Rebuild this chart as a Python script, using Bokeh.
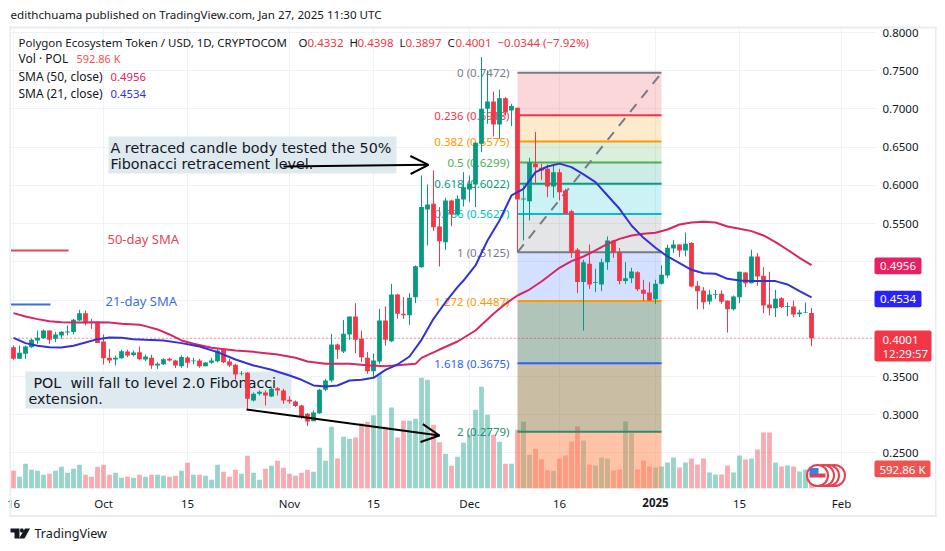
from bokeh.plotting import figure
from bokeh.embed import file_html
from bokeh.resources import INLINE
from bokeh.models import (Label, BoxAnnotation, PolyAnnotation, Arrow, OpenHead, FixedTicker,
                          Range1d, NumeralTickFormatter)

FONT = "Noto Sans"
UP, DOWN = "#089981", "#F23645"

# days counted from 1 Oct 2024
first_day = -15
opens = [.3884,.3732,.3797,.3884,.3971,.4002,.4102,.3993,.4037,.4076,.4081,.4233,.4329,.4220,.4211,
 .3958,.3745,.3723,.3740,.3828,.3780,.3819,.3723,.3745,.3645,.3662,.3732,.3710,.3636,.3749,.3701,.3710,.3636,.3680,.3701,.3850,.3697,.3653,.3536,.3549,
 .3187,.3274,.3291,.3239,.3348,.3318,.3196,.3174,.3121,.3012,.2916,.3021,
 .3326,.3448,.3919,.3827,.4050,.4285,.3993,.3744,.3570,.3697,.4233,.3962,.4573,.4320,.4303,.4538,
 .4931,.5685,.5759,.5463,.5258,.5803,.5620,.5816,.5947,.6012,.6544,.7002,.7098,.6797,.7141,.6980,.7015,.5816,
 .5794,.6282,.6230,.6217,.5986,.6173,.5934,.5663,.5158,.4735,.4974,.4726,.4704,.4996,.5280,.5127,.4748,.4787,.4865,.4634,.4599,.4512,.4713,.4822,
 .5175,.5227,.5149,.5245,.4687,.4626,.4482,.4569,.4582,.4495,.4381,.4538,.4861,.4721,.5070,.4817,.4442,.4394,.4525,.4412,.4416,.4316,.4330,.4332]
highs = [.3906,.3906,.3906,.3993,.4102,.4115,.4102,.4081,.4094,.4168,.4255,.4373,.4364,.4255,.4224,
 .4050,.3862,.3775,.3850,.3850,.3841,.3893,.3788,.3784,.3688,.3740,.3745,.3719,.3775,.3767,.3745,.3732,.3688,.3745,.3862,.3862,.3732,.3666,.3570,.3557,
 .3291,.3318,.3318,.3361,.3361,.3339,.3239,.3187,.3130,.3021,.3056,.3339,
 .3470,.4058,.3930,.4241,.4285,.4460,.4100,.3819,.3800,.4385,.4416,.4712,.4582,.4538,.4590,.4953,
 .6130,.6012,.6195,.5716,.5838,.5812,.5868,.6173,.6130,.6566,.7677,.7503,.7228,.7254,.7154,.7067,.7015,.6000,
 .6361,.6697,.6282,.6274,.6282,.6217,.5955,.5681,.5180,.5027,.5227,.4909,.5040,.5332,.5288,.5184,.4996,.4922,.4878,.4765,.4735,.4765,.4953,.5227,
 .5288,.5227,.5384,.5258,.4748,.4669,.4634,.4634,.4626,.4495,.4560,.4870,.4870,.5158,.5114,.4931,.4870,.4634,.4538,.4469,.4495,.4373,.4469,.4398]
lows = [.3719,.3732,.3732,.3876,.3928,.3993,.3928,.3950,.3993,.4037,.4050,.4224,.4168,.4124,.3937,
 .3658,.3675,.3645,.3732,.3754,.3762,.3719,.3701,.3601,.3601,.3653,.3697,.3610,.3614,.3614,.3658,.3614,.3632,.3666,.3684,.3675,.3623,.3457,.3514,.3078,
 .3174,.3252,.3121,.3230,.3252,.3143,.3143,.3100,.2947,.2851,.2916,.3012,
 .3308,.3426,.3731,.3806,.3980,.3806,.3688,.3535,.3492,.3666,.3906,.3949,.4255,.4255,.4176,.4460,
 .4922,.5214,.5402,.4940,.5157,.5467,.5607,.5724,.5781,.5716,.6435,.6806,.6640,.6609,.6915,.6775,.5127,.5280,
 .5541,.6021,.6073,.5846,.5838,.5803,.5628,.5053,.4591,.4102,.4647,.4604,.4617,.4896,.5053,.4704,.4713,.4722,.4617,.4486,.4486,.4451,.4704,.4791,
 .5114,.5062,.5070,.4669,.4381,.4381,.4442,.4512,.4451,.4076,.4364,.4460,.4669,.4721,.4687,.4329,.4299,.4277,.4394,.4290,.4277,.4277,.4329,.3897]
closes = [.3732,.3810,.3893,.3980,.4006,.4102,.3980,.4050,.4085,.4089,.4242,.4329,.4198,.4203,.3937,
 .3740,.3710,.3745,.3832,.3775,.3815,.3727,.3762,.3645,.3666,.3727,.3710,.3645,.3754,.3680,.3710,.3636,.3684,.3710,.3841,.3688,.3645,.3527,.3544,.3209,
 .3274,.3300,.3252,.3339,.3318,.3187,.3174,.3113,.2969,.2912,.3030,.3326,
 .3448,.3919,.3849,.4058,.4285,.3980,.3753,.3570,.3710,.4233,.3980,.4573,.4320,.4303,.4529,.4944,
 .5716,.5750,.5454,.5271,.5803,.5620,.5825,.5977,.6021,.6557,.7002,.7098,.6797,.7141,.6958,.7037,.5816,.5829,
 .6304,.6239,.6195,.5986,.6173,.5912,.5628,.5127,.4735,.4996,.4704,.4735,.4996,.5280,.5127,.4748,.4787,.4874,.4643,.4582,.4495,.4713,.4830,.5184,
 .5227,.5149,.5236,.4678,.4617,.4473,.4573,.4578,.4477,.4381,.4547,.4870,.4721,.5070,.4809,.4429,.4394,.4517,.4408,.4421,.4312,.4338,.4338,.4001]
volumes_k = [551,364,770,582,551,426,458,551,676,489,614,738,426,364,676,
 738,426,489,333,364,333,426,364,426,426,395,364,395,551,801,426,426,395,270,738,520,364,582,458,1019,
 489,270,614,707,863,645,458,395,489,582,520,1269,
 863,1924,936,1612,1550,1591,2038,2080,2288,3567,1924,2527,1591,2111,2111,2174,
 3453,3390,1986,1446,1082,707,988,1425,1674,2454,3172,2298,1674,1456,770,770,1830,2080,
 1050,1238,915,572,551,936,1030,1466,1934,1498,749,718,967,936,562,593,2090,1726,593,874,686,655,686,811,
 967,655,811,936,749,936,499,437,437,718,499,1030,905,936,1217,1747,1747,811,686,718,686,530,593,592.86]
assert all(len(a) == 134 for a in (opens, highs, lows, closes, volumes_k))

sma21_days = [-15,-13,-11,-9,-7,-5,-3,-1,1,3,5,7,10,13,16,19,22,25,28,31,33,35,37,39,41,43,45,47,49,51,53,55,57,59,60,62,64,66,68,70,72,74,76,78,80,82,84,86,88,90,92,94,96,98,100,102,104,106,108,110,112,114,116,118]
sma21_vals = [.4006,.3937,.3902,.3884,.3880,.3902,.3945,.3989,.4011,.4006,.3989,.3980,.3972,.3937,.3893,.3819,.3723,.3645,.3588,.3514,.3457,.3383,.3369,.3383,.3448,.3457,.3483,.3587,.3657,.3762,.3980,.4255,.4472,.4669,.4756,.4953,.5280,.5541,.5868,.5955,.6173,.6247,.6285,.6239,.6143,.6043,.5868,.5694,.5476,.5314,.5184,.5070,.4983,.4896,.4852,.4844,.4778,.4756,.4748,.4748,.4748,.4704,.4617,.4534]
sma50_days = [-15,-13,-11,-9,-7,-5,-3,-1,1,3,6,7,9,11,13,15,18,22,25,29,32,34,37,41,44,47,49,52,53,56,59,62,65,67,69,71,73,76,78,80,82,84,86,88,90,92,94,96,98,100,102,104,106,108,110,112,114,116,118]
sma50_vals = [.4329,.4285,.4251,.4224,.4211,.4207,.4207,.4211,.4207,.4190,.4177,.4159,.4116,.4050,.3972,.3928,.3876,.3841,.3823,.3788,.3745,.3697,.3666,.3666,.3649,.3636,.3649,.3666,.3744,.3853,.3958,.4102,.4320,.4451,.4560,.4638,.4743,.4922,.5009,.5070,.5149,.5236,.5301,.5345,.5367,.5380,.5423,.5489,.5515,.5524,.5515,.5463,.5432,.5402,.5345,.5258,.5158,.5053,.4956]

fib_ratios = ["0","0.236","0.382","0.5","0.618","0.786","1","1.272","1.618","2"]
fib_prices = [.7472,.6918,.6575,.6299,.6022,.5627,.5125,.4487,.3675,.2779]
fib_line_colors = ["#787B86","#F23645","#FF9800","#4CAF50","#089981","#00BCD4","#787B86","#FF9800","#2962FF","#2E8B6F"]
fib_fill_colors = ["#F23645","#FF9800","#4CAF50","#089981","#00BCD4","#787B86","#2962FF","#618975","#937B47","#FF8951"]
fib_fill_alphas = [.2,.2,.2,.2,.2,.2,.2,.5,.5,.5]
fib_start_day, fib_end_day = 69, 93

price_ticks = [.25,.30,.35,.40,.45,.50,.55,.60,.65,.70,.75,.80]
time_ticks = [-15,0,14,31,45,61,76,92,106,123]
time_labels = ["16","Oct","15","Nov","15","Dec","16","","15","Feb"]

# page-pixel helpers for annotation placement
def X(px): return (px - 103) / 6
def Y(py): return 0.8 - (py - 32) / 764.5

PIN = {"position": "absolute", "left": "0px", "top": "0px"}

p = figure(width=945, height=551, output_backend="svg", toolbar_location=None,
           x_range=Range1d(X(10), X(875)), y_range=Range1d(Y(488), Y(28)),
           y_axis_location="right", min_border_left=10, min_border_right=70,
           min_border_top=28, min_border_bottom=63, outline_line_color=None,
           background_fill_color="white", border_fill_color="white", styles=PIN)
p.extra_y_ranges = {"vol": Range1d(0, 14352)}

# transparent sheet over the whole canvas for everything that lies outside the plot area
top = figure(width=945, height=551, output_backend="svg", toolbar_location=None,
             x_range=Range1d(X(0), X(945)), y_range=Range1d(Y(551), Y(0)),
             x_axis_location=None, y_axis_location=None, min_border=0, outline_line_color=None,
             background_fill_alpha=0, border_fill_alpha=0, styles=PIN)
top.grid.visible = False

p.yaxis.ticker = FixedTicker(ticks=price_ticks)
p.yaxis.formatter = NumeralTickFormatter(format="0.0000")
p.xaxis.ticker = FixedTicker(ticks=time_ticks)
p.xaxis.major_label_overrides = {t: l for t, l in zip(time_ticks, time_labels)}
for ax in (p.xaxis[0], p.yaxis[0]):
    ax.axis_line_color = None
    ax.major_tick_line_color = None
    ax.minor_tick_line_color = None
    ax.major_tick_out = 0
    ax.minor_tick_out = 0
    ax.major_label_text_font = FONT
    ax.major_label_text_font_size = "11.5px"
    ax.major_label_text_color = "#131722"
p.yaxis.major_label_standoff = 7
p.xaxis.major_label_standoff = 7
p.grid.grid_line_color = "#eff2f6"
p.grid.grid_line_width = 1

def label(px, py, text, color="#131722", size="12px", align="left", font=FONT, style="normal", fig=top, level="annotation"):
    fig.add_layout(Label(x=X(px), y=Y(py), text=text, text_color=color, text_font_size=size,
                         text_align=align, text_baseline="middle", text_font=font,
                         text_font_style=style, level=level))

def box(x0, x1, y0, y1, color, alpha=1.0, radius=0, fig=top, level="annotation"):
    fig.add_layout(BoxAnnotation(left=X(x0), right=X(x1), top=Y(y0), bottom=Y(y1), fill_color=color,
                                 fill_alpha=alpha, line_alpha=0, border_radius=radius, level=level))

# outer frame
FRAME = "#e8ebf0"
box(9, 936, 26, 28, FRAME)
box(9, 936, 514.5, 516.5, FRAME)
box(9, 10.5, 26, 516.5, FRAME)
box(934.5, 936, 26, 516.5, FRAME)

# annotation text boxes underneath the candles
box(108, 396, 136, 173, "#dfe9f0", fig=p, level="underlay")
box(25, 291, 371, 408, "#dfe9f0", fig=p, level="underlay")
ANN = "DejaVu Sans"
label(110, 147, "A retraced candle body tested the 50%", "#131722", "14.3px", font=ANN, fig=p, level="underlay")
label(110, 163, "Fibonacci retracement level.", "#131722", "14.3px", font=ANN, fig=p, level="underlay")
label(33, 382, "POL\u00a0\u00a0will fall to level 2.0 Fibonacci", "#131722", "14.3px", font=ANN, fig=p, level="underlay")
label(28, 398, "extension.", "#131722", "14.3px", font=ANN, fig=p, level="underlay")

# series
days = list(range(first_day, first_day + len(opens)))
up = [c >= o for o, c in zip(opens, closes)]
colors = [UP if u else DOWN for u in up]
tops = [max(o, c) for o, c in zip(opens, closes)]
bots = [min(o, c) for o, c in zip(opens, closes)]

p.vbar(x=days, width=0.8, top=volumes_k, bottom=0, fill_color=colors, fill_alpha=0.42,
       line_color=None, y_range_name="vol")

# Fibonacci
bottoms = fib_prices[1:] + [Y(488)]
p.quad(left=fib_start_day, right=fib_end_day, top=fib_prices, bottom=bottoms,
       fill_color=fib_fill_colors, fill_alpha=fib_fill_alphas, line_color=None)
p.segment(x0=fib_start_day, x1=fib_end_day, y0=fib_prices, y1=fib_prices,
          line_color=fib_line_colors, line_width=2)
p.line([fib_start_day, fib_end_day], [fib_prices[6], fib_prices[0]], line_color="#787B86",
       line_width=2, line_dash="10 8")
for r, v, c in zip(fib_ratios, fib_prices, fib_line_colors):
    y_px = 32 + (0.8 - v) * 764.5
    label(509, y_px, f"{r} ({v:.4f})", c, "11.5px", "right", fig=p, level="underlay")

# last price line
p.line([X(10), X(875)], [closes[-1], closes[-1]], line_color=DOWN, line_width=1, line_dash="1 3")

# candles
p.segment(x0=days, x1=days, y0=lows, y1=highs, line_color=colors, line_width=1)
p.vbar(x=days, width=0.8, top=tops, bottom=bots, fill_color=colors, line_color=None)

# SMAs
p.line(sma50_days, sma50_vals, line_color="#DC2462", line_width=2)
p.line(sma21_days, sma21_vals, line_color="#3232D6", line_width=2)

# hand-drawn legend strokes
p.line([X(10), X(68)], [Y(250), Y(250)], line_color="#E2465A", line_width=2)
p.line([X(10), X(50)], [Y(304), Y(304)], line_color="#3F6FDC", line_width=2)
label(107, 238, "50-day SMA", "#E2465A", "13px")
label(105, 300, "21-day SMA", "#3F6FDC", "13px")

# arrows
p.add_layout(Arrow(end=OpenHead(size=18, line_color="#000000", line_width=2), x_start=X(283), y_start=Y(166),
                   x_end=X(428), y_end=Y(164.3), line_color="#000000", line_width=2))
p.add_layout(Arrow(end=OpenHead(size=18, line_color="#000000", line_width=2), x_start=X(246), y_start=Y(409),
                   x_end=X(439), y_end=Y(435), line_color="#000000", line_width=2))

# calendar flags
for cx in (834, 828, 823, 817):
    p.scatter([X(cx)], [Y(475)], size=21, fill_color="white", line_color="#E5404F", line_width=2)
p.quad(left=[X(809)], right=[X(825)], top=[Y(473)], bottom=[Y(477)], fill_color="#E5404F", line_color=None)
p.quad(left=[X(809)], right=[X(818)], top=[Y(467.5)], bottom=[Y(474)], fill_color="#3F7FE0", line_color=None)

# header
label(10, 14, "edithchuama published on TradingView.com, Jan 27, 2025 11:30 UTC", "#131722", "11.6px")
label(18, 42, "Polygon Ecosystem Token / USD, 1D, CRYPTOCOM", "#131722", "11.5px")
for x_l, letter, x_v, val in ((298, "O", 307, "0.4332"), (349, "H", 357, "0.4398"),
                              (399, "L", 405, "0.3897"), (447, "C", 455, "0.4001")):
    label(x_l, 42, letter, "#131722", "11.5px")
    label(x_v, 42, val, DOWN, "11.5px")
label(497, 42, "\u22120.0344 (\u22127.92%)", DOWN, "11.5px")
label(18, 58, "Vol \u00b7 POL", "#131722", "12px")
label(76, 58, "592.86 K", "#EF5350", "11px")
label(18, 76, "SMA (50, close)", "#131722", "12px")
label(110, 76, "0.4956", "#DC2462", "11.3px")
label(18, 93, "SMA (21, close)", "#131722", "12px")
label(110, 93, "0.4534", "#3232D6", "11.3px")

# price tags
box(874, 921, 257, 273.7, "#E91E63", radius=2)
label(897.5, 265.5, "0.4956", "white", "11.5px", "center")
box(874, 921, 290.3, 306.7, "#2B22F5", radius=2)
label(897.5, 298.5, "0.4534", "white", "11.5px", "center")
box(874, 931, 330, 361, DOWN, radius=2)
label(882, 339, "0.4001", "white", "11.5px")
label(882, 353, "12:29:57", "white", "11.5px")
box(874, 930, 460, 476.7, "#EF5350", radius=2)
label(902, 468.5, "592.86 K", "white", "11.5px", "center")
label(655, 502, "2025", "#131722", "11.5px", "center", style="bold")

# logo
INK = "#131722"
def poly(pts):
    top.add_layout(PolyAnnotation(xs=[X(a) for a, _ in pts], ys=[Y(b) for _, b in pts], fill_color=INK,
                                  fill_alpha=1, line_alpha=0))
poly([(10, 528), (19, 528), (19, 538), (14, 538), (14, 532), (10, 532)])
poly([(20, 528), (22.5, 528), (23.5, 530), (22.5, 532), (20, 532), (19.5, 530)])
poly([(24.5, 528), (29.5, 528), (24, 538), (18.5, 538)])
label(34, 533, "TradingView", INK, "12.6px")

open("out.html", "w").write(file_html([p, top], INLINE))
